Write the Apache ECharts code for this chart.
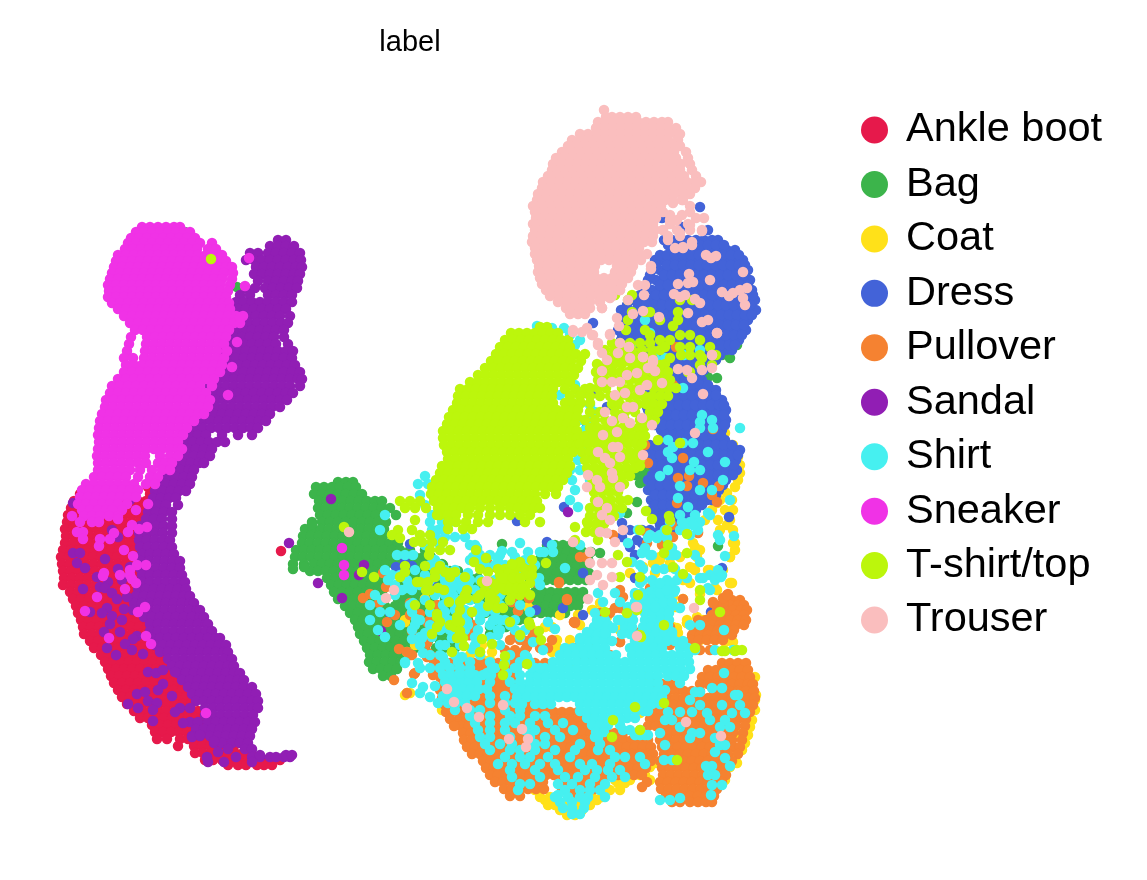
<!DOCTYPE html>
<html>
<head>
<meta charset="utf-8">
<title>label</title>
<script src="https://cdn.jsdelivr.net/npm/echarts@6/dist/echarts.min.js"></script>
<style>
html, body { margin: 0; padding: 0; background: #fff; }
#chart { width: 1147px; height: 880px; }
</style>
</head>
<body>
<div id="chart"></div>
<script>
// every row is [y, x, x, x ...]
const categories = ['Ankle boot', 'Bag', 'Coat', 'Dress', 'Pullover', 'Sandal', 'Shirt', 'Sneaker', 'T-shirt/top', 'Trouser'];
const colors = ['#e6194b', '#3cb44b', '#ffe119', '#4363d8', '#f58231', '#911eb4', '#46f0f0', '#f032e6', '#bcf60c', '#fabebe'];

const ankleBoot = [
  [487,88,96,104,148,155],[494,80,88,96,150],[501,74,82,90,98,106,114,122,130,138,146,152],
  [508,71,79,87,95,103,111,119,127,135,143,151],[515,68,76,84,92,100,108,116,124,132,140,148],
  [522,67,75,83,91,99,107,115,123,131,139,147],[529,65,73,81,89,97,105,113,121,129,137,145],
  [536,66,74,82,90,98,106,114,122,130,138,146],[543,65,73,81,89,97,105,113,121,129,137,145],
  [550,63,71,79,87,95,103,111,119,127,135,143],[557,61,69,77,85,93,101,109,117,125,133,141],
  [564,62,70,78,86,94,102,110,118,126,134,142],[571,63,71,79,87,95,103,111,119,127,135,143],
  [578,64,72,80,88,96,104,112,120,128,136,144],[585,63,71,79,87,95,103,111,119,127,135,143],
  [592,70,78,86,94,102,110,118,126,134,142,150],[599,73,81,89,97,105,113,121,129,137,145],
  [606,76,84,92,100,108,116,124,132,140,148],[613,78,86,94,102,110,118,126,134,142,150],
  [620,81,89,97,105,113,121,129,137,145,153],[627,83,91,99,107,115,123,131,139,147,155],
  [634,84,92,100,108,116,124,132,140,148,156],[641,90,98,106,114,122,130,138,146,154],
  [648,94,102,110,118,126,134,142,150,158],[655,101,109,117,125,133,141,149,157,165],
  [662,105,113,121,129,137,145,153,161,169],[669,108,116,124,132,140,148,156,164,172],
  [676,111,119,127,135,143,151,159,167,175],[683,114,122,130,138,146,154,162,170,178],
  [690,118,126,134,142,150,158,166,174,182],[697,122,130,138,146,154,162,170,178,186],
  [704,127,135,143,151,159,167,175,183,191],[711,134,142,150,158,166,174,182,190,198],
  [718,140,148,156,164,172,180,188,196,204],[725,152,160,168,176,184,192,200,208],
  [732,155,163,171,179,187,195,203,211,219],[739,157,167,180,188,196,204,212,220],
  [746,178,194,202,210,218,226,234],[753,195,203,211,219,227,235,243,251],
  [760,205,213,222,232,240,248,256,264,272,280],[765,228,238,246,257,264,272],[479,643],[551,281]
];

const bag = [
  [232,185],[287,237],[482,338,346,353],[487,316,324,332,340,348,356],[494,314,322,330,338,346,354,362],
  [501,319,327,335,343,351,359,367,375,382],[508,318,326,334,342,350,358,366,374,382,390],
  [515,320,328,336,344,352,360,368,376,384,396],[522,312,322,330,338,346,354,362,370,378,386],
  [529,305,313,321,329,337,345,353,361,369,377,384],[536,303,311,319,327,335,343,351,359,367,375,383,395],
  [543,302,310,318,326,334,342,350,358,366,374,382,390,398],[550,296,304,312,320,328,336,344,352,360,368,376,384,392,400,410,425],
  [557,295,303,311,319,327,335,343,351,359,367,375,383,391,399,407,415,423,431],
  [564,293,304,314,322,330,338,346,354,362,370,378,386,394,402,410,418,426,434,442],
  [571,310,318,326,334,342,350,358,366,374,382,402,410,418,426,434,442,450,458],
  [578,327,335,343,351,359,367,375,383,406,414,422,430,438,446,454,462,470,478],
  [585,331,339,347,355,363,371,379,400,408,416,424,432,440,448,456,464,472,480,488],
  [592,334,342,350,358,366,374,382,396,404,412,420,428,436,444,452,460,468,476,484,492,535,543,551,559,567,575,583],
  [599,338,346,354,362,370,378,398,406,414,422,430,445,453,461,469,477,485,493,501,509,517,525,533,541,549,557,565,573,581],
  [606,345,353,361,369,377,385,395,403,411,419,427,435,443,451,490,498,506,514,522,530,538,546,554,562,570,578],
  [613,350,358,366,374,382,400,408,416,424,432,440,448,456,464,485,493,501,509,517,525,533,541,549,557,565],
  [620,355,363,371,379,387,396,404,412,420,428,436,444,452,460,468,495,503,511,519,527],
  [627,358,366,374,382,390,398,406,414,422,430,438,446,454,462,490,498,506],
  [634,360,368,376,384,392,400,408,416,424,432,440,448,456,464,472,490],
  [641,364,372,380,388,396,404,412,420,428,440,448,456],[648,367,375,383,391,399,407,415,425,436,444,455],
  [655,370,378,386,394,402,410],[662,369,377,385,393,401],[669,373,381,389,397],[676,383,391],
  [524,312],[569,293],[567,304],[345,737],[333,740],[358,730],[355,722],[378,717],[377,708],
  [467,640,648],[475,635,643,650],[483,640,648],[502,637],[545,547,555,563,571,579],[552,543,551,559,567,575,583,591],
  [559,540,548,556,564,572,580,588],[566,537,545,553,561,569,577,585],[573,533,541,549,557,565,573,581,589],[580,530,538,546,554,562,570,578,586],
  [544,502],[546,718],[513,627],[553,600],[565,435,443],[575,425,433,441]
];

const coat = [
  [390,713],[420,725],[433,725],[437,722],[445,728,733],[457,738],[465,740],[473,740],[480,738],[487,735],[493,727],[500,720,732],[503,717],
  [510,712,725,733],[520,705,718,730],[530,733,720],[543,693,735],[550,735,700],[557,697,730],[560,660],[567,643,670,690],[570,723,710,695],[573,630,655],
  [583,730,732,690],[588,715],[594,665,700],[599,683,425],[603,600,640],[607,675,655,528],[610,593,625,535],[615,560,578],[620,703,687,405],[623,687,665],
  [627,545,552,673],[630,603,620,655],[633,678,640],[640,557,570,700,715],[642,733,725],[652,480,472],[660,490,483],[665,490,570],
  [677,647,755],[693,643,410,407],[695,756,405],[700,640,755],[710,750,755,442],[713,483,492,590,640],[720,752,748],[727,750,575],[735,748,740],
  [743,743,745],[750,742,648,600],[757,648,735,625],[763,737,655],[767,730,650],[775,610,645,640],[780,630,615,650,725],[783,618,625],
  [790,605,610,620,535],[797,602,592,550,540],[800,597,545,587,572],[805,555,548,565,580,590],[810,560,572,582],[815,567,575],
  [557,660,680,730],[563,670,653],[568,693],[570,708],[590,717],[583,731],[525,727],[543,733],[547,695],[623,687],[617,697,607],[620,707,628],
  [607,677,647],[597,673],[610,592],[615,663],[628,677],[637,670],[625,580],[622,405],[599,425],[645,482,415],[652,480,492,407],[630,533],
  [647,557],[652,552],[595,515],[667,458],[655,470],[580,683]
];

const dress = [
  [207,700],[218,662],[227,682],[230,708],[240,664,672,680,688,696,704,712,718],[250,671,679,687,695,703,711,719,727,735],
  [260,655,663,671,679,687,695,703,711,719,727,735,743],[270,652,660,668,676,684,692,700,708,716,724,732,740,748],
  [280,648,656,664,672,680,688,696,704,712,720,728,736,744,750],[290,644,652,660,668,676,684,692,700,708,716,724,732,740,748,752],
  [300,634,642,650,658,666,674,682,690,698,706,714,722,730,738,746,755],[310,621,629,637,645,653,661,669,677,685,693,701,709,717,725,733,741,749,756],
  [320,620,628,636,644,652,660,668,676,684,692,700,708,716,724,732,740,748],[330,618,626,634,642,650,658,666,674,682,690,698,706,714,722,730,738,746],
  [340,621,629,637,645,653,661,669,677,685,693,701,709,717,725,733,739],[350,622,630,638,646,654,662,670,678,686,694,702,710,718,726,732],
  [360,644,652,660,668,676,684,692,700,708,716],[370,648,656,664,672,680,688,696,704],[380,648,656,664,672,680,688,696,702],
  [390,648,656,664,672,680,688,696,704,712,716],[400,651,659,667,675,683,691,699,707,715,722],[410,648,656,664,672,680,688,696,704,712,720,726],
  [420,651,659,667,675,683,691,699,707,715,723,726],[430,661,669,677,685,693,701,709,717,722],[440,661,669,677,685,693,701,709,717,725],
  [450,648,656,664,672,680,688,696,704,712,720,728,736,740],[460,648,656,664,672,680,688,696,704,712,720,728,736],
  [470,658,666,674,682,690,698,706,714,722,730,737],[480,648,656,664,672,680,688,696,704,712,720,726],[490,648,656,664,672,680,688,696,704,712,719],
  [500,651,659,667,675,683,691,699,707,712],[510,651,659,667,675,683,691,696],[520,658,666,674,682,690],[530,642,650,660,672,684],
  [245,668,676,684,692,700,708,716,724],[255,660,667,675,683,691,699,707,715,723,731,739],[265,656,667,675,683,691,699,707,715,723,731,739,745],
  [275,650,664,672,680,688,696,704,712,720,728,736,744],[285,646,660,668,676,684,692,700,708,716,724,732,740,748],[295,640,656,664,672,680,688,696,704,712,720,728,736,744,753],
  [305,627,638,646,654,662,670,678,686,694,702,710,718,726,734,742,750],[315,625,633,641,649,657,665,673,681,689,697,705,713,721,729,737,745,752],
  [325,624,632,640,648,656,664,672,680,688,696,704,712,720,728,736,744],[335,622,630,638,646,654,662,670,678,686,694,702,710,718,726,734,742],
  [345,625,633,641,649,657,665,673,681,689,697,705,713,721,729,735],[355,640,648,656,664,672,680,688,696,704,712,720],[365,648,656,664,672,680,688,696,704,710],
  [375,652,660,668,676,684,692,700],[385,652,660,668,676,684,692,700,708],[395,652,660,668,676,684,692,700,708,716],[405,655,663,671,679,687,695,703,711,719,724],
  [415,652,660,668,676,684,692,700,708,716,724],[425,655,663,671,679,687,695,703,711,719,725],[435,665,673,681,689,697,705,713,721],[445,650,660,668,676,684,692,700,708,716,724,732],
  [455,652,660,668,676,684,692,700,708,716,724,732,738],[465,652,662,670,678,686,694,702,710,718,726,734],[475,652,662,670,678,686,694,702,710,718,726,733],
  [485,652,660,668,676,684,692,700,708,716,723],[495,655,663,671,679,687,695,703,711,716],[505,655,663,671,679,687,695,702],[515,655,663,671,679,687,693],[525,660,668,676,686],
  [323,593],[427,587],[433,585],[440,580],[393,597],[407,607,647],[467,563],[507,564],[542,547],[520,518],[521,517],
  [567,396],[562,405],[566,412],[544,410],[582,432],[613,390],[610,490,536],[612,711],[608,563],[615,583],[637,533],
  [517,729],[568,722],[573,583],[578,635],[555,635],[543,642],[540,637],[523,622],[530,630],[537,622],[547,630]
];

const pullover = [
  [600,724,732,740],[605,722,730,738,744],[610,717,725,733,741,747],[615,712,720,728,736,744],[620,698,706,714,722,730,738,746],
  [625,696,704,712,720,728,736,744],[630,694,702,710,718,726,734],[635,692,700,708,716,724,732],[640,691,699,707,715,723],
  [663,434,442,450,458,466,474,482,490,498,722,730,738,746],[670,436,444,452,460,468,476,484,492,500,508,708,716,724,732,740,748],
  [677,440,448,456,464,472,480,488,496,504,512,702,710,718,726,734,742,750],[684,444,452,460,468,476,484,492,500,508,516,654,662,670,678,700,708,716,724,732,740,748,753],
  [691,453,461,469,477,485,493,501,509,517,525,660,668,676,684,692,700,714,722,730,738,746,754],[698,455,463,471,479,487,495,503,511,519,527,535,660,668,676,684,692,700,708,716,724,732,740,748,755],
  [705,457,465,473,481,489,497,505,513,521,529,537,545,658,666,674,682,690,698,706,714,722,730,738,746,753],
  [712,458,466,474,482,490,498,506,514,522,530,538,546,554,562,570,578,654,662,670,678,686,694,702,710,718,726,734,742,750],
  [719,459,467,475,483,491,499,507,515,523,531,539,547,555,563,571,579,587,595,650,658,666,674,682,690,698,706,714,722,730,738,746],
  [726,461,469,477,485,493,501,509,517,525,533,541,549,557,565,573,581,589,597,605,648,656,664,672,680,688,696,704,712,720,728,736,745],
  [733,463,471,479,487,495,503,511,519,527,535,543,551,559,567,575,583,591,599,607,615,623,661,669,677,685,693,701,709,717,725,733,743],
  [740,464,472,480,488,496,504,512,520,528,536,544,552,560,568,576,584,592,600,608,616,624,632,640,648,660,668,676,684,692,700,708,716,724,732,742],
  [747,467,475,483,491,499,507,515,523,531,539,547,555,563,571,579,587,595,603,611,619,627,635,643,651,662,670,678,686,694,702,710,718,726,734,740],
  [754,472,480,488,496,504,512,520,528,536,544,552,560,568,576,584,592,600,608,616,624,632,640,648,653,664,672,680,688,696,704,712,720,728,738],
  [761,483,491,499,507,515,523,531,539,547,555,563,571,579,587,595,603,611,619,627,635,643,651,660,668,676,684,692,700,708,716,724,732],
  [768,486,494,502,510,518,526,534,542,550,558,566,574,582,590,598,606,614,622,630,638,646,662,670,678,686,694,702,710,718,726],
  [775,490,498,506,514,522,530,538,546,554,562,570,578,586,594,602,610,618,626,634,642,663,671,679,687,695,703,711,719,726],
  [782,495,503,511,519,527,535,543,563,571,579,587,595,603,647,660,668,676,684,692,700,708,716,722],[787,642],
  [789,504,512,520,528,536,544,562,570,578,586,594,661,669,677,685,693,701,709,717],[796,510,520,575,583,666,674,682,690,698,706,714],[802,672,680,690,698,706,712],
  [598,363,529],[594,370,728],[603,379,723,713],[622,387,428,574],[615,395,410],[587,386],[573,383],[649,399],[631,412],[655,412],[643,427],[623,428],
  [627,434],[605,437],[600,453,567],[635,469,470],[625,473,465],[602,512],[611,518],[614,420],[613,470],[580,457],[560,487],[550,477],[567,492],
  [653,428],[674,414],[680,394],[647,527],[640,530],[657,520],[633,533,515],[637,515],[643,527],[583,559],[622,574],[642,620],[608,615],[590,620],
  [385,673],[429,713],[478,678],[476,689],[486,687],[483,703],[486,719],[495,712],[502,717],[503,677],[533,698],[537,673],[545,663],[547,668],[543,647],
  [463,648],[445,645],[458,683],[557,580,586],[427,590],[393,584],[347,676],[693,407],[627,660,670],[607,640,650],[617,655],[613,600,610],[650,700,710],
  [655,580,590,600,610],[648,540,548,575,590],[640,540,552],[632,625,640,670],
  [690,440,448],[698,442,450],[705,445,452],[712,446,452],[719,450],[726,454],[640,510,520],[650,505,515,525],[656,510,520],[663,505,515,525,535,545],
  [525,672],[532,698],[545,662],[547,668],[599,683],[602,713],[598,723],[595,727],[608,620],[597,623],[588,650],[630,630],[633,668],[535,613],[533,647],[642,620],[645,670],[622,575],
  [603,410],[605,437],[620,430],[630,412],[627,472],[635,469],[602,512],[598,529],[611,518],[637,515],[645,527],[640,523],[623,575],[599,567],[582,559],[583,537],
  [673,415],[675,433],[670,443],[668,458],[668,477],[687,500],[652,407],[657,427,435]
];

const sandal = [
  [240,278,286],[246,270,278,286,294],[253,250,258,268,276,284,292,300],[260,246,254,262,270,278,286,294,301],
  [267,256,264,272,280,288,296,302],[274,254,262,270,278,286,294,300],[281,258,268,276,284,292,298],[288,246,255,265,273,281,289,297],
  [295,240,250,268,276,284,292],[302,236,244,252,260,268,276,284,292],[309,230,238,246,254,262,270,278,286],
  [316,232,240,248,256,264,272,280,290],[323,225,233,241,249,257,265,273,281,288],[330,228,236,244,252,260,268,276,284],
  [337,226,234,242,250,258,266,274,284],[344,228,236,244,252,260,268,276,288],[351,222,230,238,246,254,262,270,278,286,293],
  [358,220,228,236,244,252,260,268,276,284,292],[365,215,223,231,239,247,255,263,271,279,287,295],[372,212,220,228,236,244,252,260,268,276,284,292,300],
  [379,210,218,226,234,242,250,258,266,274,282,290,298,302],[386,210,218,226,234,242,250,258,266,274,282,290,300],
  [393,206,214,222,230,238,246,254,262,270,278,286,293],[400,200,208,216,224,232,240,248,256,264,272,280,287],
  [407,200,208,216,224,232,240,248,256,264,272,280],[414,198,206,214,222,230,238,246,254,262,270],[421,195,203,211,219,227,235,243,251,259,266],
  [428,195,203,211,219,227,235,243,251,258],[435,190,198,206,222,238,252],[442,185,193,201,209,217,225],[449,180,188,196,204,212],
  [456,178,186,194,202,210],[463,175,183,191,199,204],[470,165,173,181,189,194],[477,160,168,176,184,192],[484,158,166,174,182,190],
  [491,155,163,171,179,186],[498,153,161,169,176],[505,150,158,166,178],[512,148,156,164,172],[519,146,154,162,172],[526,140,148,156,164,172],
  [533,139,147,155,163,172],[540,139,147,155,163,170],[547,140,148,156,164,172],[554,142,150,158,166,174],[561,141,149,157,165,173,180],
  [568,140,148,156,164,172,180],[575,142,150,158,166,174,182],[582,142,150,158,166,174,182,185],[589,138,146,154,162,170,178,186],
  [596,136,144,152,160,168,176,184,190],[603,134,142,150,158,166,174,182,190,194],[610,133,141,149,157,165,173,181,189,197,200],
  [617,144,152,160,168,176,184,192,200,204],[624,150,158,166,174,182,190,198,206,208],[631,150,158,166,174,182,190,198,206,212],
  [638,152,160,168,176,184,192,200,208,216,220],[645,155,163,171,179,187,195,203,211,219,226],[652,160,168,176,184,192,200,208,216,224,228],
  [659,168,176,184,192,200,208,216,224,232],[666,172,180,188,196,204,212,220,228,234],[673,178,186,194,202,210,218,226,234,240],
  [680,182,190,198,206,214,222,230,238,244],[687,188,196,204,212,220,228,236,244,252],[694,192,200,208,216,224,232,240,248,256],
  [701,196,204,212,220,228,236,244,252,258],[708,180,190,205,213,221,229,237,245,253,258],[715,205,213,221,229,237,245,253],
  [722,190,198,208,216,224,232,240,248,255],[729,196,204,212,220,228,236,244,252],[736,192,200,210,218,226,234,242,250],
  [743,214,222,232,240,248],[749,228,245,252],[757,207,236,252,260,270,276,284,290],[762,208,224,252],[755,286,292,260],[752,218],
  [503,73],[553,73,80],[563,77],[568,85],[577,97],[589,83],[587,100],[582,108],[588,105],[593,112],[599,117],[569,118],[597,127],[580,122],[567,130],
  [608,107],[613,102],[616,112],[624,110],[612,90],[609,124],[620,122],[632,104,120],[636,137],[639,133],[644,125],[650,132],[648,107],[655,116],[654,143],
  [672,148],[673,156],[670,163],[672,175],[684,163],[690,158],[694,137],[692,145],[701,148],[703,157],[704,128],[708,138],[710,153],[721,153],[712,175],
  [723,183],[696,172],[737,192],[735,200],[741,214],[758,207],[530,112],[537,118],[500,130],[493,135],[559,105],
  [499,331],[543,289],[565,364],[575,359],[583,318],[598,342],[631,381],[512,568]
];

const shirt = [
  [326,537],[328,552,564],[335,570],[345,575],[340,580],[385,575],[395,560,580],[405,570,590],[412,595],[420,590,580],[430,585,592],[440,578,590],
  [450,575,585],[460,578],[470,570,580,595],[480,572,590],[490,575,595],[500,570],[507,578],
  [333,650],[320,645],[355,684],[358,655],[345,631],[350,700],[358,665],[372,665],[388,683],[400,650],[415,702],[420,712],[422,700],[428,700,713,740],
  [440,668],[443,683,693],[447,673],[452,668,708],[458,672],[462,694,725],[470,700,690,668],[476,660],[480,723],[486,680],[490,700,712],[498,678],
  [500,730],[507,688],[515,695,680,710],[522,670,690,700],[530,698,665,680],[535,650,660,690,718],[540,720],[548,672,645],[555,652,668,676],[562,632,700],
  [565,640],[575,680,722,710],[578,700],[583,640,655,665],[590,710,675],[600,640],[608,680],[615,660],[625,690,700],[632,672],
  [476,425],[484,418,428],[495,420,435,443],[505,425,445],[515,432,440,385],[522,430,442,450],[530,432,438,445,380],[537,435,445,455,465],[545,425,440,470,475,552],
  [552,512,528,540,544,553],[555,397,405,480,490,500],[560,435,470,480,498,515,525],[565,440,430,485,495,505,535],[570,385,415,445,455,505,515],
  [575,392,400,425,440,500,520,530],[580,388,430,445,455,470,480,495,510,535],[585,395,410,420,445,460,468,490,520,540],[590,402,412,430,440,450,462,475,485],
  [595,375,395,435,445,453,465,480,500],[600,382,425,460,470,490,510],[605,370,410,443,455,480,500,520],[612,380,390,412,430,445,470,485,495,530],
  [620,370,420,440,448,460,480,495,505,515],[625,400,415,430,445,468,490,510],[630,378,412,440,450,465,478,500,515,525],[637,385,420,432,455,475,490,520],
  [645,420,440,445,460,475,500],[655,430,440,455,480,510,525],[662,405,445,458,470,490,505,520,530],[668,420,430,440,450,460,470,495,515,535,545],
  [675,443,451,459,467,475,483,491,505,520,530,540],[682,445,453,461,469,477,490,510,520,530],[689,447,455,463,471,479,487,515,525],
  [696,443,451,459,467,475,490,505,520],[703,438,448,456,465,490,505,515],[710,455,470,480,505,520],[716,470,490,510,520,535,545],
  [723,475,490,505,515,530,548,563],[730,478,490,505,525,535,555,573],[737,480,490,510,530,545,560,595],[744,485,500,512,535,545,580,600],
  [750,490,510,520,535,555,575,598,610],[757,505,520,530,548,570,615,625,640],[764,498,512,525,540,555,580,592,610,645],[770,510,535,558,585,597,608,620],
  [777,512,540,565,578,595,612,625],[784,520,530,558,572,590,605],[790,518,565,580,590,600],[797,555,568,580,588,605],[802,560,572,585],[808,563,572,584],[814,572,580],
  [585,655,663,671],[592,650,658,666,674],[599,645,653,661,669],[606,640,648,656,664,672],[613,595,633,645,653,661,669],[620,597,605,618,625,633,645,653,661,669],
  [627,594,601,625,632,643,651,659,667],[634,590,598,606,622,630,640,648,656,664,672],[641,580,588,596,604,612,635,643,651,659,667,675,683],
  [648,565,573,581,589,597,605,630,638,646,654,662,680,688],[655,560,568,576,584,592,600,608,616,632,640,648,656,664,672,680,688],
  [662,553,561,569,577,585,593,601,609,617,625,633,641,649,657,665,673,681,689],[669,545,553,561,569,577,585,593,601,609,617,625,633,641,649,657,665,673,681,690],
  [676,538,546,554,562,570,578,586,594,602,610,618,626,634,642,650,658,668,676,684],[683,530,538,546,554,562,570,578,586,594,602,610,618,626,634,642,650,658,680],
  [690,522,530,538,546,554,562,570,578,586,594,602,610,618,626,634,642,650,658,665],[697,517,527,535,543,551,559,567,575,583,591,599,607,615,623,631,639,647,655,662],
  [704,522,535,543,551,580,588,596,604,612,620,628,636,644,652,660],[711,580,588,596,604,612,620,628,636,644,648],[718,587,595,603,611,619,627,635],
  [725,592,600,608,620],[732,596,604],[738,598],
  [673,724],[688,712,722],[695,738,735],[705,722,740,700],[713,745,707,732],[720,710,725],[727,720,680,730],[733,660,700,692],[738,690,715],
  [745,720,725],[752,715],[758,725],[766,730,712,706],[775,715,708],[785,712,722],[795,711,558],[800,660,670],[798,680],
  [760,664,672],[745,665],[735,648,640,645,635],[730,623,630,640],[720,620,665,672],[712,668,680,692],[700,690],[692,695,700],
  [513,620,708],[530,638],[543,628],[538,648,657,667],[553,642],[555,650,673,695],[569,643,656,664,675],[578,687,703,715],[588,708],[580,715,643,652,667,677],[570,718],
  [577,721],[556,725],[536,734],[525,693],[522,682],[528,685],[593,598,615,635,642,660],[602,603,620,635,650,663,672],[595,635,642],[583,660,670],[590,667],[607,628,655],
  [625,668,608],[620,620],[628,613],[623,597],[632,587],[633,605],[638,580],[643,683],[650,695,715,733],[630,724],[545,580],
  [555,413],[577,425],[580,407],[588,407],[582,448],[587,453],[597,448],[573,468],[578,460],[548,477],[557,473],[551,502],[557,515],[563,518,525],[543,520],[578,539],[568,565],
  [603,413],[619,416],[628,440,443],[633,425],[638,422,452],[639,412,461],[621,452,467],[638,452],[649,472],[657,462,443],[653,423],[663,418,405],[610,455,465,477],[612,477],[613,465],
  [620,480,493,500],[630,498],[635,498],[633,520],[642,533],[650,543],[629,555],[622,548],[673,460,470,487,507],[668,492,517],[657,527],[667,532],[668,540],[683,412],[687,423],[686,435],[693,420],[697,430]
];

const sneaker = [
  [227,142,150,158,166,174,180],[232,136,144,152,160,168,176,184,190],[238,131,139,147,155,163,171,179,187,195],
  [243,128,136,144,152,160,168,176,184,192,200,212],[249,125,133,141,149,157,165,173,181,189,197,208,216],
  [255,118,126,134,142,150,158,166,174,182,190,198,206,214,222],[261,116,124,132,140,148,156,164,172,180,188,196,204,212,220,226],
  [267,114,122,130,138,146,154,162,170,178,186,194,202,210,218,226,232],[273,112,120,128,136,144,152,160,168,176,184,192,200,208,216,224,233],
  [279,110,118,126,134,142,150,158,166,174,182,190,198,206,214,222,232],[285,108,116,124,132,140,148,156,164,172,180,188,196,204,212,220,230],
  [291,109,117,125,133,141,149,157,165,173,181,189,197,205,213,221,228],[297,108,116,124,132,140,148,156,164,172,180,188,196,204,212,220,226],
  [303,112,120,128,136,144,152,160,168,176,184,192,200,208,216,224,229],[309,118,126,134,142,150,158,166,174,182,190,198,206,214,222,230],
  [316,124,132,140,148,156,164,172,180,188,196,204,212,220,228,236,243],[323,130,138,146,154,162,170,178,186,194,202,210,218,226,234,240],
  [330,135,143,151,159,167,175,183,191,199,207,215,223,229],[337,131,147,155,163,171,179,187,195,203,211,219,226],
  [344,129,146,154,162,170,178,186,194,202,210,218,224],[351,127,145,153,161,169,177,185,193,201,209,217,227],[358,124,133,144,152,160,168,176,184,192,200,208,216,224],
  [365,126,134,142,150,158,166,174,182,190,198,206,214,222],[372,124,132,140,148,156,164,172,180,188,196,204,212,220],
  [379,118,126,134,142,150,158,166,174,182,190,198,206,214],[386,112,120,128,136,144,152,160,168,176,184,192,200,212],
  [393,110,118,126,134,142,150,158,166,174,182,190,198,206],[400,106,114,122,130,138,146,154,162,170,178,186,194,202,210],
  [407,105,113,121,129,137,145,153,161,169,177,185,193,200,208],[414,102,110,118,126,134,142,150,158,166,174,182,190,198,204],
  [421,100,108,116,124,132,140,148,156,164,172,180,188,194],[428,99,107,115,123,131,139,147,155,163,171,179,187],
  [435,98,106,114,122,130,138,146,154,162,170,178,183],[442,99,107,115,123,131,139,147,155,163,171,178],
  [449,98,106,114,122,130,138,146,154,162,170,178,182],[456,97,105,113,121,129,137,145,160,170,178],
  [463,98,106,114,122,130,138,146,158,165,172],[470,98,106,114,122,130,140,152,162,170],[477,94,102,110,118,126,138,150,158],
  [484,86,94,102,110,118,126,134,146,155],[490,82,90,98,106,114,122,130,138],[497,80,88,96,104,112,120,128,136],
  [504,78,86,94,102,110,118,127,148],[510,82,90,98,106,122,136,112],[516,72,84,92,100,109,118],[522,80,92,99],
  [532,83,128,77],[539,83,100,110],[533,114],[546,99],[550,124],[556,133],[525,132],[529,139],[527,147],[519,118],[573,104],[576,103],[575,120],
  [575,130],[579,132],[583,136],[565,137,146],[570,130],[589,125],[597,97],[611,85],[612,138],[607,145],[636,146],[644,151],[638,109],[713,206],
  [548,342],[565,344],[575,344],[258,249],[286,245],[317,240],[342,237],[367,232],[395,228]
];

const tshirtTop = [
  [259,211],
  [327,540,547],[333,511,519,527,535,543,551,558],[340,505,513,521,529,537,545,553,561,568],[347,500,508,516,524,532,540,548,556,564,570],
  [354,496,504,512,520,528,536,544,552,560,568,576,585],[361,491,499,507,515,523,531,539,547,555,563,571,581],
  [368,485,493,501,509,517,525,533,541,549,557,565,573,578],[375,478,486,494,502,510,518,526,534,542,550,558,566,574],
  [382,470,478,486,494,502,510,518,526,534,542,550,558,566,570],[389,460,468,476,484,492,500,508,516,524,532,540,548,553,565,575,585],
  [396,458,466,474,482,490,498,506,514,522,530,538,546,552,570,580,590],[403,457,465,473,481,489,497,505,513,521,529,537,545,553,565,573,581,590],
  [410,453,461,469,477,485,493,501,509,517,525,533,541,549,557,565,573,578],[417,449,457,465,473,481,489,497,505,513,521,529,537,545,553,561,569,577],
  [424,447,455,463,471,479,487,495,503,511,519,527,535,543,551,559,567,575],[431,443,451,459,467,475,483,491,499,507,515,523,531,539,547,555,563,571,577],
  [438,443,451,459,467,475,483,491,499,507,515,523,531,539,547,555,563,571,577],[445,444,452,460,468,476,484,492,500,508,516,524,532,540,548,556,564,572,577],
  [452,447,455,463,471,479,487,495,503,511,519,527,535,543,551,559,567,573],[459,448,456,464,472,480,488,496,504,512,520,528,536,544,552,560,568],
  [466,442,450,458,466,474,482,490,498,506,514,522,530,538,546,554,562,570],[473,440,448,456,464,472,480,488,496,504,512,520,528,536,544,552,560,567],
  [480,436,444,452,460,468,476,484,492,500,508,516,524,532,540,548,556,563],[487,432,440,448,456,464,472,480,488,496,504,512,520,528,536,544,552,558],
  [494,431,439,447,455,463,471,479,487,495,503,511,519,527,535,545,556],[501,400,410,420,434,442,450,458,466,474,482,490,498,506,514,522,530,537],
  [508,405,415,426,438,446,454,462,470,480,490,500,510,518,526,534,540],[515,440,448,456,468,478,490,500,510,520,530],[522,448,456,466,478,488,525,540],[529,463,472,448],
  [515,437],[527,344],[520,415],[530,398,412],[535,420,430,392],[542,414,422,432,443],[550,430,440,450],[555,429],[538,400],
  [566,405,425,440],[572,362,435,445,455],[577,374,400,450,465],[582,420,428,505,490,500],[590,485,495,505,515,525],[595,465,480,490,520,530,512],[600,495,510],
  [569,515,525,532,505,498],[575,512,525,532,515],[583,510,498,520,530],[567,522],[590,430,444],[605,415,430],[610,460],[617,437],[622,440,460],[634,432,460],
  [638,457,463],[646,464],[652,452,480],[625,450,530],[617,457],[612,472],[665,504],[635,520],[627,437,455],[600,462,490],[575,500,508],
  [608,497,503],[585,520],[550,476],[562,474,520],[572,509],
  [343,612,620,630,640,650],[350,605,614,623,632,642,652,660],[357,612,620,628,636,644,652],[364,597,606,614,622,632,640,650,665],
  [372,596,604,612,620,628,636,644,652,660,668],[380,598,606,614,622,630,638,646,654,662,670],[388,590,598,606,622,630,638,654,662,668,676],
  [396,600,610,620,628,636,644,652,660,668],[404,612,620,630,638,646,654,662],[412,590,600,615,625,635,650,658],[420,585,595,605,615,625,640,648,655],
  [428,590,598,606,614,622,630,638,644],[436,585,593,601,609,617,625,633,640,645],[444,580,588,596,604,612,620,628,636,642],[452,582,590,598,606,614,622,630,638],
  [460,585,593,601,609,617,625,633,640],[468,587,595,603,611,619,627,635],[476,590,598,606,614,622,630],[484,592,600,608,616,624],[492,594,602,610,618],
  [500,595,603,611,620,628],[508,590,598,606,614,622],[516,590,598,606,614],[524,588,596,604],[532,586,594],[540,575,598],[330,626,645],[320,628,660,678],
  [300,628,680,692],[312,632,645,650,678],[295,615,632],[326,673],[335,650,680,690],[340,660,670,700],[347,665,680,690,710],[355,681,690,700,716],[358,670,702],
  [365,660,700,712],[372,690,688],[443,680],[423,650],[466,640],[392,640],[440,658,620],[520,670],[530,667],[545,668],[567,673],[590,700],[625,664],[610,637],
  [530,640],[577,640],[595,638],[612,720],[651,722],[651,725,735],[635,640],[600,700],[737,612],[730,640],[703,664],[707,635],[720,613],[760,677],[648,695],
  [553,664,687],[574,683],[534,687],[516,669],[519,652],[511,646],[562,627],[577,620],[612,605],[613,627],[637,641],[650,737,742],[527,575],[522,587],[555,618],
  [558,486],[564,512],[560,532],[563,546],[572,405],[582,417],[590,426],[577,435],[588,438],[573,450],[569,480],[572,488],[582,482],[588,502,510,517,522],[578,503,513,520],
  [606,488],[595,490],[590,467],[598,467,477],[602,460],[602,449],[614,437],[621,457],[631,460],[622,510],[622,529],[631,539],[640,541],[639,482],[644,492],[656,505],[664,527],[675,503]
];

const trouser = [
  [110,604],[117,606,612,620,628,636],[122,598,606,614,622,630,638,646,654,662,668],[128,596,604,612,620,628,636,644,652,660,668,676],
  [134,580,588,596,604,612,620,628,636,644,652,660,668,676,680],[140,572,580,588,596,604,612,620,628,636,644,652,660,668,678],
  [146,568,576,584,592,600,608,616,624,632,640,648,656,664,672,680],[152,562,570,578,586,594,602,610,618,626,634,642,650,658,666,674,686],
  [158,556,564,572,580,588,596,604,612,620,628,636,644,652,660,668,676,688],[164,553,561,569,577,585,593,601,609,617,625,633,641,649,657,665,673,681,690],
  [170,552,560,568,576,584,592,600,608,616,624,632,640,648,656,664,672,680,692],[176,548,556,564,572,580,588,596,604,612,620,628,636,644,652,660,668,676,684,696],
  [182,543,551,559,567,575,583,591,599,607,615,623,631,639,647,655,663,671,679,687,695,701],[188,542,550,558,566,574,582,590,598,606,614,622,630,638,646,654,662,670,678,686,695],
  [194,538,546,554,562,570,578,586,594,602,610,618,626,634,642,650,658,666,674,682,690],[200,537,545,553,561,569,577,585,593,601,609,617,625,633,641,649,657,665,672,682],
  [206,533,541,549,557,565,573,581,589,597,605,613,621,629,637,645,653,661,690],[212,535,543,551,559,567,575,583,591,599,607,615,623,631,639,647,655,663,690],
  [218,536,544,552,560,568,576,584,592,600,608,616,624,632,640,648,656,696,704],[224,533,541,549,557,565,573,581,589,597,605,613,621,629,637,645,653,670,688],
  [230,535,543,551,559,567,575,583,591,599,607,615,623,631,639,647,655,663,677,690,702],[236,533,541,549,557,565,573,581,589,597,605,613,621,629,637,645,653,668,680],
  [242,532,540,548,556,564,572,580,588,596,604,612,620,628,636,644,652,692],[248,535,543,551,559,567,575,583,591,599,607,615,623,631,639,683,675],
  [254,535,543,551,559,567,575,583,591,599,607,615,623,631,639,647],[260,537,545,553,561,569,577,585,593,601,609,617,625,633,641],
  [266,539,547,555,563,571,579,587,595,617,625,633,651],[272,538,546,554,562,570,578,586,594,615,623,631],[278,540,548,556,564,572,580,588,596,604,612,620,628],
  [284,542,550,558,566,574,582,590,598,606,614,622],[290,546,554,562,570,578,586,594,602,610,620],[296,550,558,566,574,582,590,598,606,612],[302,558,566,574,582,590,600],
  [308,566,574,582,590,602],[314,570,578,585],[255,706],[258,711],[256,716],[272,743],[274,689],[284,678],[283,688],[282,693],[280,710],[294,674],[297,680],
  [295,685],[299,695],[303,700],[292,722],[296,729],[293,733],[290,740],[288,747],[298,743],[305,745],[313,688],[322,702],[320,708],[317,659],[333,717],
  [355,712],[311,643],[314,633],[318,617],[326,619],[334,610],[347,629],[343,620],[357,643],[360,653],[285,638,645],[295,644],[269,651],[290,620],
  [300,628],[298,610],[308,602],[313,585],[330,573],[328,587],[335,592],[343,598],[215,682,670],[231,702],[245,692],[247,683],[225,690],[220,670,677],
  [233,680],[230,663],[240,668],[210,655],[212,660],[203,673],[200,683],
  [332,573,582],[335,593,610],[345,598],[353,602,618],[360,607],[371,602],[358,630],[347,629],[357,643],[362,653],[368,648],[371,655],[373,637],[375,627],
  [382,602,612,620],[395,615],[393,625],[390,640],[385,647],[383,662],[407,627,633],[412,605],[418,623],[423,630],[421,612],[418,642],[435,603],[432,617],
  [447,613,618],[452,598],[458,605],[457,620],[463,610],[473,612],[478,613],[475,588],[480,597],[487,587,600,620],[502,598],[508,607],[515,602],[520,610],
  [530,623],[532,600],[533,607],[542,615,573],[552,590],[563,590,602,612],[580,590],[575,597],[577,612],[585,603],[425,652],[433,695],[455,643],[369,678],
  [370,702,687],[368,712],[355,712],[333,717],[394,703],[378,692],[532,349],[590,394],[598,386],[581,487],[689,447],[702,454],[708,467],[717,479],[729,522],
  [739,528],[747,526],[739,509],[705,503],[636,637],[607,637],[608,694],[722,686],[736,721],[599,588],[607,636]
];

const byCategory = [ankleBoot, bag, coat, dress, pullover, sandal, shirt, sneaker, tshirtTop, trouser];

// rows -> [x, y] pairs for the scatter series
function toPoints(rows) {
  const pts = [];
  rows.forEach(r => {
    for (let i = 1; i < r.length; i++) pts.push([r[i], r[0]]);
  });
  return pts;
}

const myChart = echarts.init(document.getElementById('chart'));
myChart.setOption({
  animation: false,
  backgroundColor: '#fff',
  title: {
    text: 'label',
    left: 405,
    top: 23,
    textAlign: 'center',
    textStyle: { fontFamily: 'Liberation Sans', fontSize: 29, fontWeight: 'normal', color: '#000' }
  },
  legend: {
    orient: 'vertical',
    left: 856,
    top: 104,
    icon: 'circle',
    itemWidth: 27,
    itemHeight: 27,
    itemGap: 12.45,
    textStyle: { fontFamily: 'Liberation Sans', fontSize: 41.5, color: '#000', padding: [0, 0, 0, 13] },
    data: categories
  },
  grid: { left: 0, right: 0, top: 0, bottom: 0 },
  xAxis: { type: 'value', min: 0, max: 1147, show: false },
  yAxis: { type: 'value', min: 0, max: 880, inverse: true, show: false },
  series: categories.map((name, i) => ({
    name: name,
    type: 'scatter',
    symbolSize: 10.5,
    progressive: 0,
    silent: true,
    itemStyle: { color: colors[i], opacity: 1 },
    data: toPoints(byCategory[i])
  }))
});
</script>
</body>
</html>
